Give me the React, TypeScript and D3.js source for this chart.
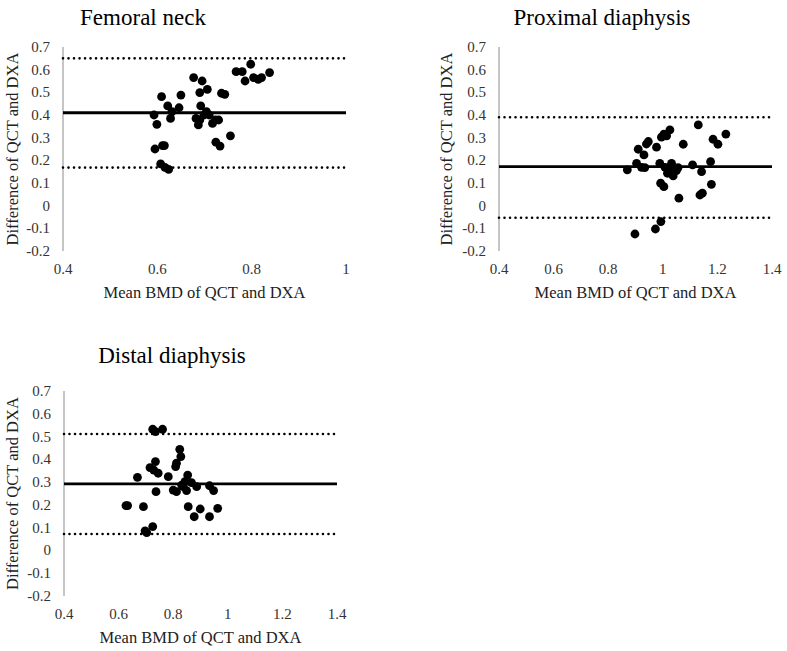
import React from "react";
import * as d3 from "d3";

// ---- Data ----
const femoralX = [0.593, 0.599, 0.595, 0.611, 0.615, 0.609, 0.607, 0.616, 0.624, 0.622, 0.628, 0.631, 0.646, 0.65, 0.677, 0.682, 0.687, 0.69, 0.69, 0.695, 0.692, 0.699, 0.706, 0.71, 0.717, 0.723, 0.73, 0.724, 0.733, 0.736, 0.743, 0.755, 0.767, 0.78, 0.786, 0.798, 0.804, 0.814, 0.821, 0.838, 0.704];
const femoralY = [0.40, 0.359, 0.25, 0.265, 0.265, 0.481, 0.184, 0.169, 0.16, 0.44, 0.385, 0.415, 0.432, 0.488, 0.565, 0.385, 0.356, 0.378, 0.499, 0.55, 0.44, 0.40, 0.513, 0.40, 0.363, 0.378, 0.378, 0.28, 0.263, 0.496, 0.491, 0.308, 0.591, 0.591, 0.55, 0.624, 0.565, 0.557, 0.565, 0.587, 0.415];
const femoralLines = [0.65, 0.41, 0.168];

const proximalX = [0.87, 0.904, 0.91, 0.931, 0.94, 0.947, 0.898, 0.922, 0.934, 0.977, 0.973, 0.993, 0.989, 0.992, 1.004, 0.995, 1.004, 1.014, 1.026, 1.008, 1.017, 1.026, 1.032, 1.038, 1.05, 1.056, 1.059, 1.075, 1.109, 1.13, 1.142, 1.136, 1.145, 1.175, 1.178, 1.184, 1.202, 1.231];
const proximalY = [0.158, 0.187, 0.249, 0.224, 0.272, 0.283, -0.125, 0.169, 0.168, 0.258, -0.103, -0.07, 0.187, 0.099, 0.084, 0.302, 0.316, 0.308, 0.334, 0.169, 0.143, 0.155, 0.187, 0.131, 0.155, 0.168, 0.033, 0.271, 0.18, 0.356, 0.15, 0.047, 0.055, 0.194, 0.094, 0.293, 0.271, 0.316];
const proximalLines = [0.39, 0.172, -0.053];

const distalX = [0.627, 0.633, 0.669, 0.691, 0.697, 0.703, 0.725, 0.715, 0.729, 0.735, 0.725, 0.735, 0.761, 0.745, 0.737, 0.782, 0.8, 0.809, 0.812, 0.824, 0.828, 0.812, 0.831, 0.843, 0.853, 0.849, 0.855, 0.867, 0.886, 0.877, 0.899, 0.933, 0.948, 0.933, 0.963, 0.837];
const distalY = [0.197, 0.197, 0.321, 0.192, 0.086, 0.078, 0.105, 0.364, 0.353, 0.39, 0.532, 0.522, 0.532, 0.339, 0.258, 0.324, 0.265, 0.368, 0.383, 0.444, 0.412, 0.258, 0.287, 0.302, 0.331, 0.263, 0.192, 0.298, 0.28, 0.148, 0.182, 0.284, 0.263, 0.148, 0.185, 0.28];
const distalLines = [0.511, 0.292, 0.072];

const yTicks = [0.7, 0.6, 0.5, 0.4, 0.3, 0.2, 0.1, 0, -0.1, -0.2];
const xTicksShort = [0.4, 0.6, 0.8, 1];
const xTicksLong = [0.4, 0.6, 0.8, 1, 1.2, 1.4];

const xTitle = "Mean BMD of QCT and DXA";
const yTitle = "Difference of QCT and DXA";

const FONT = "Liberation Serif, DejaVu Serif, Times New Roman, serif";

type PanelProps = {
  title: string;
  xs: number[];
  ys: number[];
  lines: number[];
  xTicks: number[];
  x0: number;
  x1: number;
  yTop: number;
  yBottom: number;
  titleX: number;
  titleY: number;
  yTitleX: number;
};

function fmt(v: number) {
  return String(Math.round(v * 10) / 10);
}

function Panel(p: PanelProps) {
  const xDom = [p.xTicks[0], p.xTicks[p.xTicks.length - 1]];
  const x = d3.scaleLinear().domain(xDom).range([p.x0, p.x1]);
  const y = d3.scaleLinear().domain([-0.2, 0.7]).range([p.yBottom, p.yTop]);
  const [upper, mean, lower] = p.lines;
  const cx = (p.x0 + p.x1) / 2;
  return (
    <g>
      <text x={p.titleX} y={p.titleY} textAnchor="middle" dominantBaseline="central" style={{ fontFamily: FONT, fontSize: 23 }} fill="#000">
        {p.title}
      </text>
      <line x1={p.x0} x2={p.x0} y1={y(0.7)} y2={y(-0.2)} stroke="#8c8c8c" strokeWidth={1} />
      {yTicks.map((t) => (
        <text key={t} x={p.x0 - 13} y={y(t)} textAnchor="end" dominantBaseline="central" style={{ fontFamily: FONT, fontSize: 15 }} fill="#333">
          {fmt(t)}
        </text>
      ))}
      {p.xTicks.map((t) => (
        <text key={t} x={x(t)} y={p.yBottom + 18} textAnchor="middle" dominantBaseline="central" style={{ fontFamily: FONT, fontSize: 15 }} fill="#333">
          {fmt(t)}
        </text>
      ))}
      <text x={cx} y={p.yBottom + 41} textAnchor="middle" dominantBaseline="central" style={{ fontFamily: FONT, fontSize: 16.5 }} fill="#222">
        {xTitle}
      </text>
      <text
        transform={`translate(${p.yTitleX},${(y(0.7) + y(-0.2)) / 2}) rotate(-90)`}
        textAnchor="middle"
        dominantBaseline="central"
        style={{ fontFamily: FONT, fontSize: 16.5 }}
        fill="#222"
      >
        {yTitle}
      </text>
      <line x1={p.x0} x2={p.x1} y1={y(upper)} y2={y(upper)} stroke="#000" strokeWidth={2.6} strokeDasharray="0.01 5.5" strokeLinecap="round" />
      <line x1={p.x0} x2={p.x1} y1={y(lower)} y2={y(lower)} stroke="#000" strokeWidth={2.6} strokeDasharray="0.01 5.5" strokeLinecap="round" />
      <line x1={p.x0} x2={p.x1} y1={y(mean)} y2={y(mean)} stroke="#000" strokeWidth={2.8} />
      {p.xs.map((v, i) => (
        <circle key={i} cx={x(v)} cy={y(p.ys[i])} r={4.4} fill="#000" />
      ))}
    </g>
  );
}

export default function App() {
  return (
    <svg width={787} height={651} style={{ position: "absolute", left: 0, top: 0, background: "#fff" }}>
      <rect x={0} y={0} width={787} height={651} fill="#fff" />
      <Panel title="Femoral neck" xs={femoralX} ys={femoralY} lines={femoralLines} xTicks={xTicksShort}
        x0={63} x1={346} yTop={47} yBottom={251} titleX={143} titleY={17} yTitleX={12} />
      <Panel title="Proximal diaphysis" xs={proximalX} ys={proximalY} lines={proximalLines} xTicks={xTicksLong}
        x0={499} x1={772} yTop={47} yBottom={251} titleX={602} titleY={17} yTitleX={446} />
      <Panel title="Distal diaphysis" xs={distalX} ys={distalY} lines={distalLines} xTicks={xTicksLong}
        x0={64} x1={337} yTop={391} yBottom={596} titleX={172} titleY={355} yTitleX={12} />
    </svg>
  );
}
